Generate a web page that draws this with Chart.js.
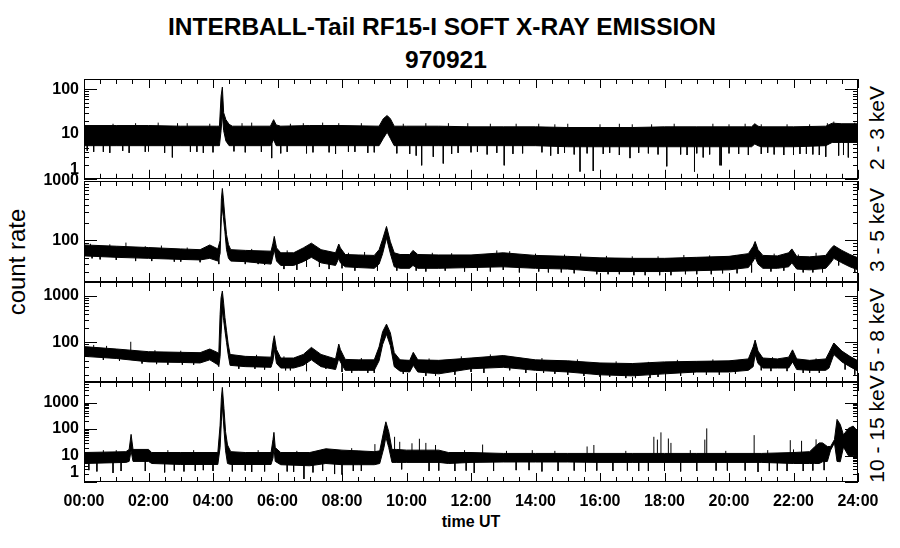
<!DOCTYPE html>
<html lang="en">
<head>
<meta charset="UTF-8">
<title>INTERBALL-Tail RF15-I soft X-ray emission 970921</title>
<script src="https://cdn.jsdelivr.net/npm/chart.js"></script>
<style>
  body { margin: 0; background: #fff; font-family: 'Liberation Sans', Arial, sans-serif; }
  #page { position: relative; width: 900px; height: 548px; overflow: hidden; background: #fff; }
  canvas { position: absolute; left: 0; }
  .lbl { position: absolute; white-space: nowrap; line-height: 1; color: #000; }
  .title { font-weight: bold; font-size: 24.5px; text-align: center; }
  .rot { transform: translate(-50%, -50%) rotate(-90deg); font-size: 21px; }
</style>
</head>
<body>
<div id="page">
  <div class="lbl title" style="left:0; width:884px; top:15px">INTERBALL-Tail RF15-I SOFT X-RAY EMISSION</div>
  <div class="lbl title" style="left:0; width:892px; top:48px">970921</div>
  <div class="lbl rot" style="left:17px; top:262px; font-size:24px">count rate</div>
  <div class="lbl rot" style="left:876px; top:128px">2 - 3 keV</div>
  <div class="lbl rot" style="left:876px; top:230px">3 - 5 keV</div>
  <div class="lbl rot" style="left:876px; top:330px">5 - 8 keV</div>
  <div class="lbl rot" style="left:876px; top:429px">10 - 15 keV</div>
  <div class="lbl" style="left:471px; top:514px; transform:translateX(-50%); font-weight:bold; font-size:16px">time UT</div>
</div>

<script>
// ---- data: time (hours UT), upper / lower edge of the noise band ----
// 2 - 3 keV
const t1  = [0, 1, 2, 3, 4.1, 4.2, 4.25, 4.29, 4.33, 4.4, 4.5, 4.6, 5.78, 5.88, 5.96, 6.1, 7, 8, 9.15, 9.28, 9.4, 9.5, 9.62, 10, 11, 12, 13, 14, 15, 16, 17, 18, 19, 20, 20.7, 20.8, 20.9, 21, 22, 23, 23.2, 23.5, 24];
const hi1 = [15.5, 15.5, 15.5, 15, 15, 15, 70, 112, 30, 21, 16.5, 15, 15, 21, 16, 15, 15.5, 15.5, 15, 22, 26, 22, 15, 15, 15, 14.5, 14.5, 14.5, 14, 14, 14, 14.5, 14.5, 14.5, 14.5, 17, 15, 14.5, 14.5, 15, 17.5, 17, 17];
const lo1 = [5.5, 5.5, 5.5, 5.5, 5.5, 5.5, 12, 28, 12, 7, 5.5, 5.5, 5.5, 7.5, 5.5, 5.5, 5.5, 5.5, 5.5, 8, 11, 8, 5.5, 5.5, 5.5, 5.5, 5.5, 5.5, 5.2, 5.2, 5.2, 5.2, 5.2, 5.2, 5.2, 6, 5.5, 5.2, 5.2, 5.5, 6.5, 6.5, 6.5];
// single spikes sticking out of the band (time, value)
const spT1 = [0.3, 0.8, 1.2, 1.6, 1.9, 2.3, 2.74, 3.2, 3.3, 3.7, 4.65, 5.2, 5.82, 6.3, 6.8, 6.9, 7.4, 7.6, 8.2, 8.6, 8.8, 10.3, 10.47, 10.6, 10.83, 11.14, 11.6, 11.9, 12.2, 13.03, 13.4, 13.6, 14.47, 14.9, 15.0, 15.38, 15.79, 16.3, 16.93, 17.0, 17.5, 18.07, 18.3, 18.5, 18.93, 19.2, 19.5, 19.72, 19.76, 20.3, 21.2, 21.7, 21.8, 22.2, 22.6, 23.0, 23.25, 23.7, 23.9,
              0.9, 2.9, 3.9, 4.9, 6.4, 7.9, 9.9, 11.3, 12.6, 14.1, 14.6, 16.0, 16.6, 17.6, 20.0, 20.5, 21.0, 22.5, 23.05,
              0.1, 0.6, 1.4, 2.0, 2.5, 3.5, 4.0, 5.0, 5.5, 6.1, 7.1, 7.8, 8.4, 9.0, 9.7, 10.1, 11.4, 12.0, 12.5, 12.8, 13.3, 14.2, 14.7, 15.2, 15.6, 16.1, 16.6, 17.2, 17.8, 18.7, 19.0, 19.4, 20.0, 20.6, 21.0, 21.4, 22.0, 22.4, 22.8, 23.4, 23.55];
const spV1 = [4, 3.8, 4.2, 17.5, 4, 18, 3, 17.5, 4, 3.8, 4.1, 18, 2.9, 4, 17.5, 3.7, 18, 3.9, 4, 17.5, 3.8, 3.3, 2, 17.5, 3.1, 2.2, 3.8, 17.5, 4, 2, 17, 3.7, 3.3, 3.8, 17, 1.45, 1.5, 3.8, 2.9, 16.5, 3.7, 1.9, 17, 3.5, 1.45, 3, 17, 2, 2, 3.6, 3.8, 3.4, 16.5, 3.6, 3.5, 3.1, 19, 3, 18,
              17, 17.5, 17, 17.5, 17, 17.5, 17, 17.5, 17, 17, 16.5, 16.5, 17, 16.5, 16.5, 17, 16.5, 16.5, 17.5,
              4.2, 4, 3.8, 4.1, 3.8, 4, 3.9, 3.9, 4, 3.7, 3.9, 3.6, 4, 3.9, 3.7, 3.6, 3.6, 3.9, 3.5, 3.8, 3.6, 3.9, 3.6, 3.5, 3.7, 3.6, 3.4, 3.8, 3.5, 3.4, 3.7, 3.5, 3.7, 3.4, 3.6, 3.5, 3.4, 3.6, 3.4, 3.3, 3.4];

// 3 - 5 keV
const t2  = [0, 1, 2, 3, 3.6, 3.9, 4.15, 4.22, 4.26, 4.29, 4.32, 4.37, 4.42, 4.48, 4.55, 5, 5.8, 5.86, 5.9, 5.97, 6.1, 6.5, 6.8, 7.05, 7.35, 7.8, 7.9, 7.95, 8.1, 8.5, 9.0, 9.15, 9.26, 9.38, 9.5, 9.62, 9.8, 10.1, 10.2, 10.35, 11, 12, 13, 14, 15, 16, 17, 18, 19, 20, 20.6, 20.75, 20.81, 20.9, 21.05, 21.5, 21.85, 21.95, 22.1, 22.5, 23.0, 23.15, 23.25, 23.5, 23.75, 24];
const hi2 = [84, 80, 76, 72, 70, 84, 72, 100, 500, 750, 520, 240, 125, 85, 70, 68, 66, 90, 117, 75, 62, 62, 75, 90, 70, 62, 87, 75, 58, 57, 56, 70, 105, 172, 95, 62, 58, 58, 68, 58, 57, 57, 62, 56, 54, 51, 50, 50, 52, 54, 60, 80, 96, 70, 56, 55, 62, 72, 54, 53, 56, 72, 82, 68, 58, 51];
const lo2 = [55, 52, 50, 48, 47, 50, 45, 60, 250, 350, 250, 140, 70, 50, 45, 44, 40, 55, 70, 45, 38, 38, 44, 52, 42, 38, 50, 42, 36, 35, 34, 40, 60, 110, 60, 36, 34, 34, 38, 34, 34, 35, 36, 34, 33, 30, 30, 30, 31, 32, 35, 45, 52, 40, 34, 34, 36, 42, 33, 32, 34, 42, 50, 42, 36, 32];
const spT2 = [0.5, 1.3, 1.6, 2.4, 2.8, 3.6, 4.18, 5.4, 6.2, 6.3, 6.6, 7.6, 8.4, 8.7, 9.1, 10.6, 11.8, 12.6, 12.8, 13.5, 14.4, 15.2, 15.4, 15.9, 16.6, 17.4, 18.2, 18.6, 19.0, 19.8, 20.7, 21.3, 22.3, 22.7, 22.9, 23.9,
              0.2, 0.8, 1.9, 3.2, 5.2, 8.2, 10.8, 11.4, 13.2, 14.0, 14.9, 16.2, 17.0, 17.8, 19.4, 20.2, 21.4, 22.15,
              0.25, 1.0, 2.1, 3.0, 5.0, 5.6, 6.9, 7.3, 8.0, 9.7, 10.3, 11.2, 12.2, 13.0, 14.1, 14.8, 16.25, 17.05, 17.85, 18.65, 19.45, 20.25, 21.7, 22.6, 23.4];
const spV2 = [48, 92, 45, 82, 44, 43, 40, 40, 33, 68, 32, 33, 31, 64, 31, 30, 30, 30, 68, 29, 29, 28, 60, 27, 27, 26, 26, 57, 27, 28, 29, 30, 29, 62, 29, 29,
              88, 86, 80, 76, 72, 62, 62, 61, 66, 60, 58, 55, 54, 54, 56, 57, 60, 58,
              50, 47, 45, 44, 40, 39, 36, 36, 34, 31, 31, 31, 31, 32, 30, 29, 27, 26, 26, 27, 27, 28, 31, 29, 38];

// 5 - 8 keV
const t3  = [0, 1, 2, 3, 3.6, 3.9, 4.15, 4.18, 4.22, 4.25, 4.29, 4.33, 4.37, 4.42, 4.47, 4.53, 5, 5.8, 5.86, 5.9, 5.97, 6.1, 6.5, 6.8, 7.05, 7.35, 7.8, 7.9, 7.95, 8.1, 8.5, 9.0, 9.15, 9.26, 9.38, 9.5, 9.62, 9.8, 10.1, 10.21, 10.35, 11, 12, 13, 14, 15, 16, 17, 18, 19, 20, 20.6, 20.75, 20.81, 20.9, 21.05, 21.5, 21.85, 21.97, 22.1, 22.5, 23.0, 23.1, 23.25, 23.5, 23.75, 24];
const hi3 = [81, 72, 63, 61, 60, 72, 60, 58, 400, 920, 1280, 700, 343, 178, 92, 55, 50, 48, 100, 139, 70, 46, 46, 55, 78, 55, 44, 92, 70, 43, 42, 42, 80, 170, 247, 160, 60, 42, 41, 61, 42, 41, 46, 52, 42, 40, 36, 35, 38, 39, 40, 44, 80, 112, 65, 46, 44, 48, 69, 44, 41, 44, 60, 97, 65, 50, 40];
const lo3 = [50, 45, 38, 37, 36, 42, 33, 30, 50, 150, 500, 300, 180, 100, 55, 32, 30, 29, 40, 70, 35, 28, 28, 32, 42, 30, 26, 45, 38, 25, 25, 25, 40, 90, 150, 85, 30, 24, 23, 32, 23, 21, 27, 29, 25, 23, 20, 19, 21, 23, 23, 25, 30, 55, 35, 28, 28, 28, 38, 26, 25, 25, 28, 55, 38, 30, 24];
const spT3 = [0.3, 0.6, 1.45, 1.8, 2.6, 3.4, 5.3, 6.4, 6.9, 8.3, 8.8, 10.6, 11.5, 12.4, 13.7, 14.6, 15.5, 16.3, 17.1, 17.8, 18.5, 19.3, 20.2, 21.3, 22.3, 22.8, 23.9,
              0.7, 2.2, 3.0, 5.35, 6.2, 8.6, 10.7, 11.7, 12.6, 14.2, 15.3, 16.5, 17.5, 18.4, 19.5, 21.35, 22.7,
              1.1, 2.25, 3.05, 4.8, 5.6, 6.25, 7.5, 8.0, 9.0, 9.9, 10.9, 12.0, 13.2, 14.25, 15.0, 16.0, 16.8, 17.55, 18.9, 19.7, 21.0, 21.8, 22.5, 23.6];
const spV3 = [88, 42, 103, 35, 33, 33, 27, 25, 24, 22, 22, 19, 20, 22, 22, 21, 19, 18, 17, 18, 19, 20, 21, 24, 22, 22, 20,
              84, 68, 66, 54, 50, 46, 45, 50, 55, 46, 43, 39, 38, 42, 43, 48, 45,
              40, 34, 33, 27, 26, 25, 27, 23, 22, 21, 19, 23, 25, 22, 20, 18, 17, 17, 20, 20, 25, 24, 22, 26];

// 10 - 15 keV
const t4  = [0, 1.3, 1.4, 1.46, 1.52, 2.0, 2.1, 3, 4.15, 4.22, 4.26, 4.29, 4.34, 4.39, 4.45, 4.55, 5, 5.8, 5.86, 5.89, 5.93, 6.1, 7.0, 7.5, 8.0, 8.5, 9.0, 9.17, 9.3, 9.36, 9.45, 9.55, 9.7, 10, 11, 11.3, 12, 13, 14, 15, 16, 17, 18, 19, 20, 21, 22, 22.5, 22.65, 22.8, 22.9, 23.05, 23.15, 23.27, 23.35, 23.45, 23.55, 23.7, 23.85, 24];
const hi4 = [13, 14, 17, 63, 17, 17, 13, 13, 13, 141, 1500, 3760, 600, 79, 25, 14, 13, 13, 40, 75, 20, 13, 13, 18, 16, 15, 14, 15, 90, 188, 80, 17, 17, 16, 16, 13, 13, 12, 12, 12, 12, 12, 12, 12, 12, 12, 13, 14, 21, 30, 30, 22, 22, 40, 232, 150, 60, 106, 130, 80];
const lo4 = [5, 5.5, 6, 15, 6, 6, 5, 4.6, 4.6, 20, 200, 800, 100, 15, 5, 4.6, 4.6, 4.6, 8, 20, 6, 4.5, 4.1, 5, 4.5, 4.5, 4.5, 5, 20, 50, 20, 5.5, 5.5, 5.5, 5.5, 5, 5.5, 5.7, 5.7, 5.7, 5.5, 5.5, 5.5, 5.5, 5.5, 5.5, 5, 5, 5, 5, 5.8, 6, 16, 30, 6, 5.8, 21, 10, 10, 10];
const spT4 = [0.4, 0.9, 1.9, 2.5, 3.1, 3.7, 4.6, 5.2, 6.3, 6.82, 7.4, 7.77, 8.0, 8.6, 9.02, 9.63, 9.79, 9.85, 10.17, 10.4, 10.6, 10.7, 10.9, 11.5, 12.1, 12.36, 13.4, 14.2, 15.55, 15.6, 15.81, 16.4, 17.2, 17.67, 17.78, 17.89, 18.12, 18.2, 18.5, 19.25, 19.31, 19.6, 20.78, 20.9, 21.5, 21.9, 22.25, 22.3, 22.7, 22.95,
              0.6, 1.0, 2.6, 3.4, 5.4, 6.6, 8.3, 11.8, 13.1, 13.9, 14.6, 16.8, 18.8, 19.9, 21.2, 22.0,
              0.15, 1.15, 2.8, 3.45, 4.0, 5.0, 5.6, 6.5, 7.1, 8.35, 11.0, 11.85, 12.7, 13.8, 14.7, 15.2, 15.9, 16.85, 17.5, 18.0, 19.0, 19.95, 20.5, 21.25, 21.8, 22.6];
const spV4 = [2.5, 2.2, 2.6, 2.3, 2.5, 2.8, 2.5, 2.4, 2.5, 1.3, 2.6, 2, 1.9, 2.6, 27, 51, 33, 3, 29, 43, 30, 2.6, 25, 2.6, 2.2, 26, 2.8, 2.5, 2.5, 22, 25, 2.6, 2.6, 51, 40, 75, 44, 30, 2.5, 40, 106, 2.7, 59, 2.4, 2.7, 38, 36, 2.6, 41, 2.8,
              16, 16, 16, 16, 16, 15, 19, 16, 15, 16, 15, 15, 16, 15, 16, 17,
              2.8, 2.6, 2.7, 2.6, 2.6, 2.7, 2.5, 2.4, 2.3, 2.6, 2.7, 2.7, 2.6, 2.8, 2.6, 2.7, 2.7, 2.7, 2.6, 2.6, 2.6, 2.7, 2.7, 2.6, 2.6, 2.7];

// x axis: hours 0..24, labelled every 2 h
const xTickHours = [0, 2, 4, 6, 8, 10, 12, 14, 16, 18, 20, 22, 24];

// ---- drawing ----
const page = document.getElementById('page');

// inward tick marks + frame, IDL style
const frameTicks = {
  id: 'frameTicks',
  afterDatasetsDraw(chart) {
    const { ctx, chartArea: a, scales: { x, y } } = chart;
    ctx.save();
    ctx.strokeStyle = '#000';
    ctx.lineWidth = 1;
    ctx.strokeRect(Math.round(a.left) + 0.5, Math.round(a.top) + 0.5,
                   Math.round(a.right - a.left) - 1, Math.round(a.bottom - a.top) - 1);
    ctx.beginPath();
    for (let i = 0; i <= 48; i++) {
      const px = Math.round(x.getPixelForValue(i / 2)) + 0.5;
      const len = i % 4 === 0 ? 9 : 5;
      ctx.moveTo(px, a.top); ctx.lineTo(px, a.top + len);
      ctx.moveTo(px, a.bottom); ctx.lineTo(px, a.bottom - len);
    }
    const e0 = Math.floor(Math.log10(y.min)), e1 = Math.ceil(Math.log10(y.max));
    for (let e = e0; e <= e1; e++) {
      for (let k = 1; k <= 9; k++) {
        const v = k * Math.pow(10, e);
        if (v < y.min - 1e-9 || v > y.max + 1e-9) continue;
        const py = Math.round(y.getPixelForValue(v)) + 0.5;
        const len = k === 1 ? 13 : 5;
        ctx.moveTo(a.left, py); ctx.lineTo(a.left + len, py);
        ctx.moveTo(a.right, py); ctx.lineTo(a.right - len, py);
      }
    }
    ctx.stroke();
    ctx.restore();
  }
};

// vertical spike segments from inside the band to the read value, in time order
function spikeSegs(t, hi, lo, spT, spV) {
  const order = spT.map((_, i) => i).sort((a, b) => spT[a] - spT[b]);
  const segs = [];
  order.forEach(i => {
    const ts = spT[i];
    let j = 0;
    t.forEach((tt, k) => { if (Math.abs(tt - ts) < Math.abs(t[j] - ts)) j = k; });
    segs.push({ x: ts, y: Math.sqrt(hi[j] * lo[j]) }, { x: ts, y: spV[i] }, { x: ts, y: null });
  });
  return segs;
}

function makePanel(top, bottom, t, hi, lo, spT, spV, yMin, yMax, showX) {
  const padT = 22, padB = showX ? 8 : 22, xH = showX ? 34 : 0;
  const cv = document.createElement('canvas');
  cv.width = 900;
  cv.height = bottom - top + padT + padB + xH;
  cv.style.top = (top - padT) + 'px';
  page.appendChild(cv);

  new Chart(cv, {
    type: 'line',
    data: {
      datasets: [
        { data: t.map((x, i) => ({ x, y: hi[i] })), borderColor: '#000', fill: false },
        { data: t.map((x, i) => ({ x, y: lo[i] })), borderColor: '#000', backgroundColor: '#000', fill: '-1' },
        { data: spikeSegs(t, hi, lo, spT, spV), borderColor: '#000', fill: false, spanGaps: false }
      ]
    },
    options: {
      responsive: false,
      animation: false,
      events: [],
      layout: { padding: { top: padT, bottom: padB, left: 0, right: 42 } },
      elements: { point: { radius: 0 }, line: { borderWidth: 1, tension: 0 } },
      plugins: { legend: { display: false }, tooltip: { enabled: false } },
      scales: {
        x: {
          type: 'linear', min: 0, max: 24,
          display: showX,
          grid: { display: false, drawTicks: false },
          border: { display: false },
          afterBuildTicks: s => { s.ticks = xTickHours.map(v => ({ value: v })); },
          afterFit: s => { s.height = xH; },
          ticks: {
            autoSkip: false, maxRotation: 0, padding: 10, color: '#000',
            font: { family: "'Liberation Sans', Arial, sans-serif", size: 16, weight: 'bold' },
            callback: v => String(v).padStart(2, '0') + ':00'
          }
        },
        y: {
          type: 'logarithmic', min: yMin, max: yMax,
          grid: { display: false, drawTicks: false },
          border: { display: false },
          afterFit: s => { s.width = 84; },
          ticks: {
            autoSkip: false, padding: 5, color: '#000',
            font: { family: "'Liberation Sans', Arial, sans-serif", size: 16, weight: 'bold' },
            callback: v => {
              const l = Math.log10(v);
              if (Math.abs(l - Math.round(l)) > 1e-9) return '';
              // IDL nudges the bottom label up
              return v === yMin ? [String(v), ''] : String(v);
            }
          }
        }
      }
    },
    plugins: [frameTicks]
  });
}

makePanel(79, 181, t1, hi1, lo1, spT1, spV1, 1, 170, false);
makePanel(181, 282, t2, hi2, lo2, spT2, spV2, 20, 1000, false);
makePanel(282, 382, t3, hi3, lo3, spT3, spV3, 14, 2000, false);
makePanel(382, 482, t4, hi4, lo4, spT4, spV4, 1, 6000, true);
</script>
</body>
</html>
